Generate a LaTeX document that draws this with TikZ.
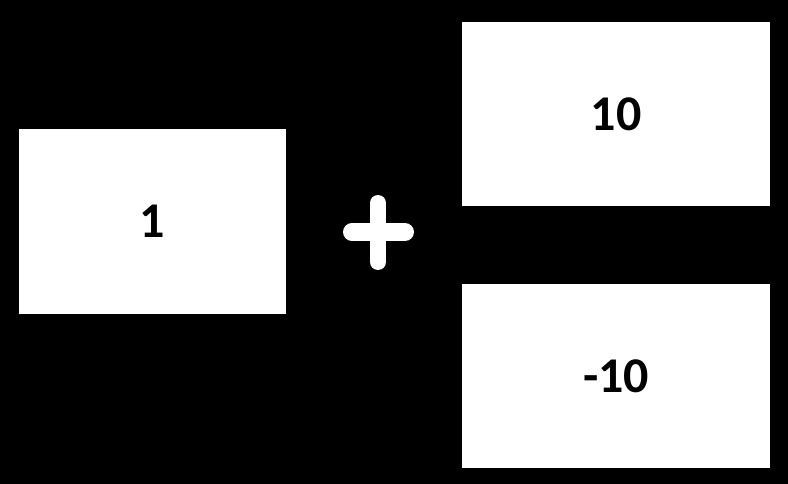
\documentclass[tikz,border=0pt]{standalone}
\usepackage{fontspec}
\setmainfont{Carlito}
\usetikzlibrary{positioning}

\begin{document}
\begin{tikzpicture}[
    x=1pt, y=-1pt,
    card/.style={fill=white, minimum width=267pt, minimum height=185pt, inner sep=0pt,
        font=\fontsize{50}{50}\selectfont\bfseries, text=black},
    plusbar/.style={white, line cap=round}
]

% Background
\fill[black] (0,0) rectangle (788,484);
\useasboundingbox (0,0) rectangle (788,484);

% Cards
\node[card] (one) at (152.5,221.5) {1};
\node[card, minimum width=308pt, minimum height=184pt] (ten) at (616,114) {10};
\node[card, minimum width=308pt, minimum height=184pt] (minusten) at (616,376) {-10};

% Plus sign
\draw[plusbar, line width=16pt] (378,203) -- (378,262);
\draw[plusbar, line width=18pt] (352,232) -- (405,232);

\end{tikzpicture}
\end{document}
